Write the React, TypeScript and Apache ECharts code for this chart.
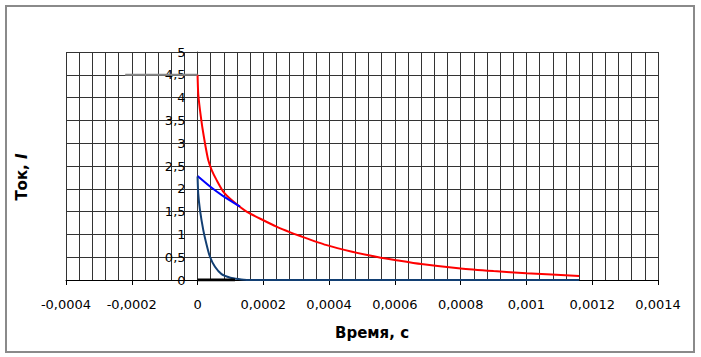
import React, { useEffect, useRef } from "react";
import * as echarts from "echarts";

const xTicksMin = -0.0004;
const xTicksMax = 0.0014;
const xInterval = 0.0002;
const yMin = 0;
const yMax = 5;
const yInterval = 0.5;

const redT = [0, 0.000002, 0.0000073, 0.0000143, 0.0000225, 0.0000325, 0.000043, 0.000058, 0.000078, 0.000109, 0.000149, 0.0002, 0.00024, 0.00028, 0.00031, 0.00039, 0.00047, 0.00055, 0.0006, 0.00068, 0.0008, 0.0009, 0.001, 0.00116];
const redI = [4.5, 4.09, 3.73, 3.36, 3.0, 2.63, 2.41, 2.19, 1.94, 1.72, 1.5, 1.31, 1.17, 1.05, 0.97, 0.77, 0.62, 0.5, 0.44, 0.35, 0.252, 0.195, 0.147, 0.088];

const blueT = [0, 0.000038, 0.000078, 0.000129];
const blueI = [2.28, 2.05, 1.84, 1.61];

const navyT = [0, 0.000002, 0.0000073, 0.0000173, 0.0000277, 0.0000377, 0.000053, 0.000073, 0.0001, 0.000124, 0.00015, 0.00116];
const navyI = [2.27, 1.9, 1.54, 1.1, 0.77, 0.51, 0.29, 0.13, 0.05, 0.02, 0, 0];

const blackT = [0, 0.000114];
const blackI = [0, 0];

const grayT = [-0.00022, 0];
const grayI = [4.5, 4.5];

const zip = (t: number[], v: number[]) => t.map((x, i) => [x, v[i]]);
const fmt = (v: number) => {
  const r = Math.round(v * 1e8) / 1e8;
  return String(r).replace(".", ",");
};

const GRID_LEFT = 66;
const GRID_RIGHT = 43;
const WIDTH = 701;

export default function App() {
  const ref = useRef<HTMLDivElement>(null);
  useEffect(() => {
    if (!ref.current) return;
    const chart = echarts.init(ref.current, undefined, { renderer: "svg" });
    const grid = "#333333";
    const plotW = WIDTH - GRID_LEFT - GRID_RIGHT;
    const zeroOffset = ((0 - xTicksMin) / (xTicksMax - xTicksMin)) * plotW;
    chart.setOption({
      animation: false,
      backgroundColor: "#ffffff",
      textStyle: { fontFamily: "DejaVu Sans" },
      grid: { left: GRID_LEFT, top: 52, right: GRID_RIGHT, bottom: 77, containLabel: false },
      xAxis: {
        type: "value",
        min: xTicksMin,
        max: xTicksMax,
        interval: xInterval,
        axisLine: { show: true, onZero: false, lineStyle: { color: "#000", width: 1 } },
        axisTick: { show: true, length: 5, lineStyle: { color: "#000" } },
        minorTick: { show: false, splitNumber: 5 },
        splitLine: { show: true, lineStyle: { color: grid, width: 1 } },
        minorSplitLine: { show: true, lineStyle: { color: grid, width: 1 } },
        axisLabel: { formatter: fmt, color: "#000", fontSize: 13, margin: 18, fontFamily: "DejaVu Sans" },
      },
      yAxis: {
        type: "value",
        min: yMin,
        max: yMax,
        interval: yInterval,
        offset: -zeroOffset,
        axisLine: { show: true, onZero: false, lineStyle: { color: grid, width: 1 } },
        axisTick: { show: false },
        splitLine: { show: true, lineStyle: { color: grid, width: 1 } },
        axisLabel: { formatter: fmt, color: "#000", fontSize: 13, margin: 12, fontFamily: "DejaVu Sans" },
      },
      graphic: [
        {
          type: "rect",
          shape: { x: 6, y: 6, width: 688, height: 346 },
          style: { fill: "none", stroke: "#8a8a8a", lineWidth: 2 },
          silent: true,
        },
        {
          type: "text",
          x: 372,
          y: 333,
          style: {
            text: "Время, с",
            font: "bold 15px 'DejaVu Sans'",
            fill: "#000",
            textAlign: "center",
            textVerticalAlign: "middle",
          },
        },
        {
          type: "text",
          x: 22,
          y: 177,
          rotation: Math.PI / 2,
          style: {
            text: "{a|Ток, }{b|I}",
            rich: {
              a: { font: "bold 15px 'DejaVu Sans'", fill: "#000" },
              b: { font: "italic bold 15px 'DejaVu Sans'", fill: "#000" },
            },
            textAlign: "center",
            textVerticalAlign: "middle",
          },
        },
      ],
      series: [
        { type: "line", data: zip(redT, redI), showSymbol: false, smooth: 0.2, lineStyle: { color: "#ff0000", width: 2 }, z: 3 },
        { type: "line", data: zip(blueT, blueI), showSymbol: false, smooth: 0.2, lineStyle: { color: "#0000ff", width: 2 }, z: 4 },
        { type: "line", data: zip(navyT, navyI), showSymbol: false, smooth: 0.2, lineStyle: { color: "#123f73", width: 2 }, z: 5 },
        { type: "line", data: zip(blackT, blackI), showSymbol: false, lineStyle: { color: "#000000", width: 3 }, z: 6 },
        { type: "line", data: zip(grayT, grayI), showSymbol: false, lineStyle: { color: "#888888", width: 2 }, z: 6 },
      ],
    });
    return () => chart.dispose();
  }, []);
  return (
    <div
      ref={ref}
      style={{ position: "fixed", left: 0, top: 0, width: 701, height: 357 }}
    />
  );
}
